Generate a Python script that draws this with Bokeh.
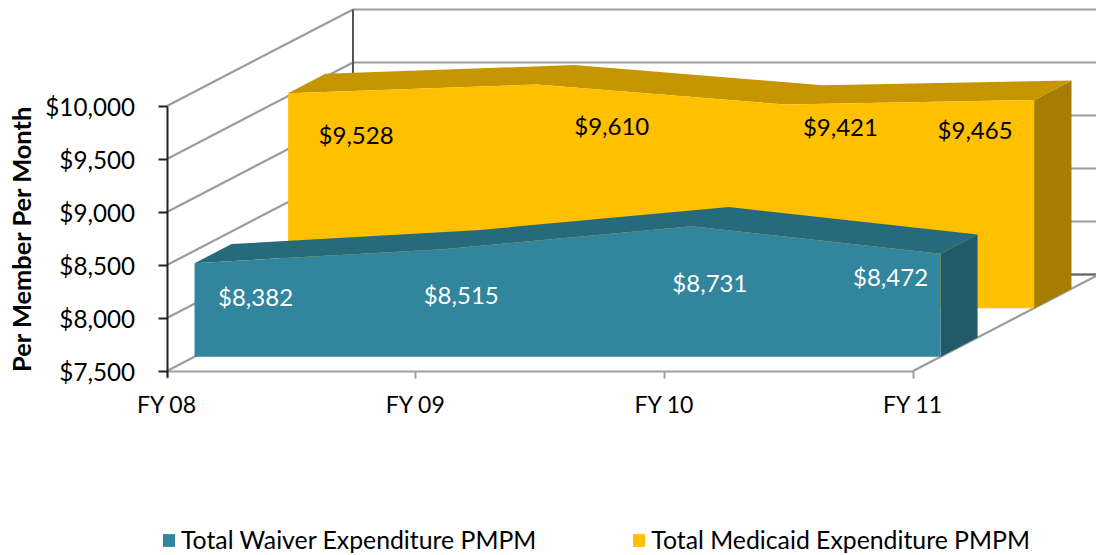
from math import pi
from bokeh.plotting import figure
from bokeh.models import (ColumnDataSource, FixedTicker, NumeralTickFormatter, Legend, LegendItem,
                          Range1d)
from bokeh.core.properties import value
from bokeh.embed import file_html
from bokeh.resources import INLINE

categories = ["FY 08", "FY 09", "FY 10", "FY 11"]
waiver = [8382, 8515, 8731, 8472]
medicaid = [9528, 9610, 9421, 9465]
y_ticks = [7500, 8000, 8500, 9000, 9500, 10000]
waiver_name = "Total Waiver Expenditure PMPM"
medicaid_name = "Total Medicaid Expenditure PMPM"
y_title = "Per Member Per Month"

FONT = "Lato"
W, H = 1096, 555
LEFT, BOTTOM_PX = 166.5, 370.5
PX_PER_CAT = 248.67
PX_PER_USD = 0.106
DEPTH_X = 186 / PX_PER_CAT      # oblique depth of the box, category units
DEPTH_Y = 96.5 / PX_PER_USD     # ... and in dollars
WAIVER_D = (0.148, 0.347)
MEDICAID_D = (0.651, 0.852)
BASE = y_ticks[0]
n = len(categories)


def px(i, d):
    return i + d * DEPTH_X


def py(v, d):
    return v + d * DEPTH_Y


p = figure(width=W, height=H, output_backend="svg", toolbar_location=None,
           x_range=Range1d(-LEFT / PX_PER_CAT, (W - LEFT) / PX_PER_CAT),
           y_range=Range1d(BASE - (H - BOTTOM_PX) / PX_PER_USD, BASE + BOTTOM_PX / PX_PER_USD),
           min_border_left=0, min_border_right=0, min_border_top=0,
           min_border_bottom=0)
p.outline_line_color = None
p.grid.visible = False
p.background_fill_color = "white"

# axes
xa = p.xaxis[0]
xa.fixed_location = BASE
xa.ticker = FixedTicker(ticks=list(range(n)))
xa.major_label_overrides = {i: c for i, c in enumerate(categories)}
xa.major_label_text_font = FONT
xa.major_label_text_font_size = "23px"
xa.major_label_text_color = "black"
xa.major_label_standoff = 12
xa.axis_line_color = "#A0A0A0"
xa.axis_line_width = 2
xa.major_tick_line_color = "#A0A0A0"
xa.major_tick_line_width = 2
xa.major_tick_out = 7
xa.major_tick_in = 0
xa.minor_tick_line_color = None
xa.bounds = (0, n - 1)

ya = p.yaxis[0]
ya.fixed_location = 0
ya.ticker = FixedTicker(ticks=y_ticks)
ya.formatter = NumeralTickFormatter(format="$0,0")
ya.major_label_text_font = FONT
ya.major_label_text_font_size = "24.2px"
ya.major_label_text_color = "black"
ya.major_label_standoff = 23
ya.axis_line_color = "#222222"
ya.axis_line_width = 2
ya.major_tick_line_color = "#222222"
ya.major_tick_line_width = 2
ya.major_tick_out = 9
ya.major_tick_in = 0
ya.minor_tick_line_color = None
ya.bounds = (y_ticks[0] - 60, y_ticks[-1])

p.text(x=[0], y=[(y_ticks[0] + y_ticks[-1]) / 2], text=[y_title], angle=pi / 2,
       x_offset=-146, text_font=value(FONT), text_font_style="bold", text_font_size="25.4px",
       text_color="black", text_align="center", text_baseline="middle")

# walls
GRID = "#9C9C9C"
p.segment(x0=[0] * len(y_ticks), y0=y_ticks,
          x1=[px(0, 1)] * len(y_ticks), y1=[py(v, 1) for v in y_ticks],
          line_color=GRID, line_width=2.2)
p.segment(x0=[px(0, 1)] * len(y_ticks), y0=[py(v, 1) for v in y_ticks],
          x1=[px(n - 1, 1)] * len(y_ticks), y1=[py(v, 1) for v in y_ticks],
          line_color=GRID, line_width=2.2)
p.segment(x0=[px(0, 1)], y0=[py(BASE, 1)], x1=[px(n - 1, 1)], y1=[py(BASE, 1)],
          line_color="#666666", line_width=2)
p.segment(x0=[px(0, 1)], y0=[py(BASE, 1)], x1=[px(0, 1)], y1=[py(y_ticks[-1], 1)],
          line_color="#555555", line_width=2)
p.segment(x0=[n - 1], y0=[BASE], x1=[px(n - 1, 1)], y1=[py(BASE, 1)],
          line_color=GRID, line_width=2.2)


def area3d(vals, depth, front, top, side):
    d0, d1 = depth
    idx = list(range(n))
    p.patch([px(n - 1, d0), px(n - 1, d1), px(n - 1, d1), px(n - 1, d0)],
            [py(BASE, d0), py(BASE, d1), py(vals[-1], d1), py(vals[-1], d0)],
            fill_color=side, line_color=None)
    p.patch([px(i, d0) for i in idx] + [px(i, d1) for i in reversed(idx)],
            [py(v, d0) for v in vals] + [py(v, d1) for v in reversed(vals)],
            fill_color=top, line_color=None)
    return p.patch([px(0, d0)] + [px(i, d0) for i in idx] + [px(n - 1, d0)],
                   [py(BASE, d0)] + [py(v, d0) for v in vals] + [py(BASE, d0)],
                   fill_color=front, line_color=None)


r_med = area3d(medicaid, MEDICAID_D, "#FFC000", "#C69600", "#A67D00")
r_wai = area3d(waiver, WAIVER_D, "#31859C", "#276A7C", "#215A69")


def labels(vals, depth, dx, dy, color):
    src = ColumnDataSource(dict(
        x=[px(i, depth[0]) for i in range(n)],
        y=[py(v, depth[0]) for v in vals],
        t=[f"${v:,}" for v in vals], dx=dx, dy=dy))
    p.text("x", "y", text="t", source=src, x_offset="dx", y_offset="dy",
           text_font=value(FONT), text_font_size="24px", text_color=color,
           text_align="center", text_baseline="middle")


labels(medicaid, MEDICAID_D, [68, 75, 55, -59], [41, 41, 22, 30], "black")
labels(waiver, WAIVER_D, [61, 18, 18, -50], [33, 45, 56, 23], "white")

legend = Legend(items=[LegendItem(label=waiver_name, renderers=[r_wai]),
                       LegendItem(label=medicaid_name, renderers=[r_med])],
                orientation="horizontal", location=(161, 1),
                label_text_font=FONT, label_text_font_size="24.8px", label_text_color="black",
                glyph_width=15, glyph_height=16, label_standoff=5, spacing=95,
                padding=0, margin=0, border_line_color=None, background_fill_alpha=0)
p.add_layout(legend, "center")

open("out.html", "w").write(file_html(p, INLINE))
